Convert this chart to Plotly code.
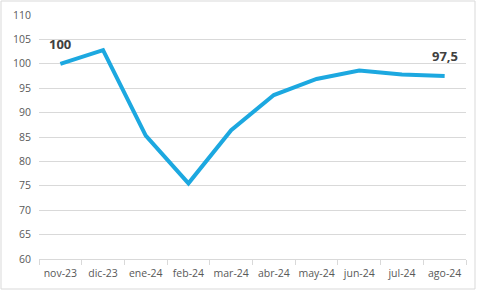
import plotly.graph_objects as go

categories = ["nov-23", "dic-23", "ene-24", "feb-24", "mar-24", "abr-24",
              "may-24", "jun-24", "jul-24", "ago-24"]
values = [100.0, 102.8, 85.3, 75.5, 86.4, 93.6, 96.9, 98.6, 97.8, 97.5]
label_idx = [0, 9]
label_text = ["100", "97,5"]

W, H = 480, 291
ml, mr, mt, mb = 39, 14, 15, 32
pw, ph = W - ml - mr, H - mt - mb

fig = go.Figure()
fig.add_trace(go.Scatter(
    x=categories, y=values, mode="lines",
    line=dict(color="#1CA8E0", width=4),
    hoverinfo="skip", showlegend=False,
))

for i, t in zip(label_idx, label_text):
    fig.add_annotation(x=categories[i], y=values[i], text="<b>" + t + "</b>",
                       showarrow=False, yshift=20,
                       font=dict(family="Open Sans", size=13, color="#404040"))

def px_x(p):
    return (p - ml) / pw

def px_y(p):
    return 1 - (p - mt) / ph

fig.add_shape(type="rect", xref="paper", yref="paper",
              x0=px_x(1), x1=px_x(475), y0=px_y(289), y1=px_y(1),
              line=dict(color="#D9D9D9", width=1), layer="below")

fig.update_layout(
    width=W, height=H,
    margin=dict(l=ml, r=mr, t=mt, b=mb, autoexpand=False),
    paper_bgcolor="white", plot_bgcolor="white",
    font=dict(family="Open Sans", size=10.5, color="#595959"),
    xaxis=dict(
        type="category", range=[-0.5, 9.5], tickangle=0, automargin=False,
        showgrid=False, showline=True, linecolor="#D9D9D9", linewidth=1,
        ticks="outside", tickson="boundaries", ticklen=5, tickcolor="#D9D9D9",
        ticklabelstandoff=4,
        tickfont=dict(size=10.5, color="#595959"), fixedrange=True,
    ),
    yaxis=dict(
        range=[60, 110], dtick=5, tick0=60, automargin=False,
        showgrid=True, gridcolor="#D9D9D9", gridwidth=1,
        showline=False, zeroline=False, ticks="",
        ticklabelstandoff=7,
        tickfont=dict(size=10.5, color="#595959"), fixedrange=True,
    ),
)

fig.write_html("out.html")
